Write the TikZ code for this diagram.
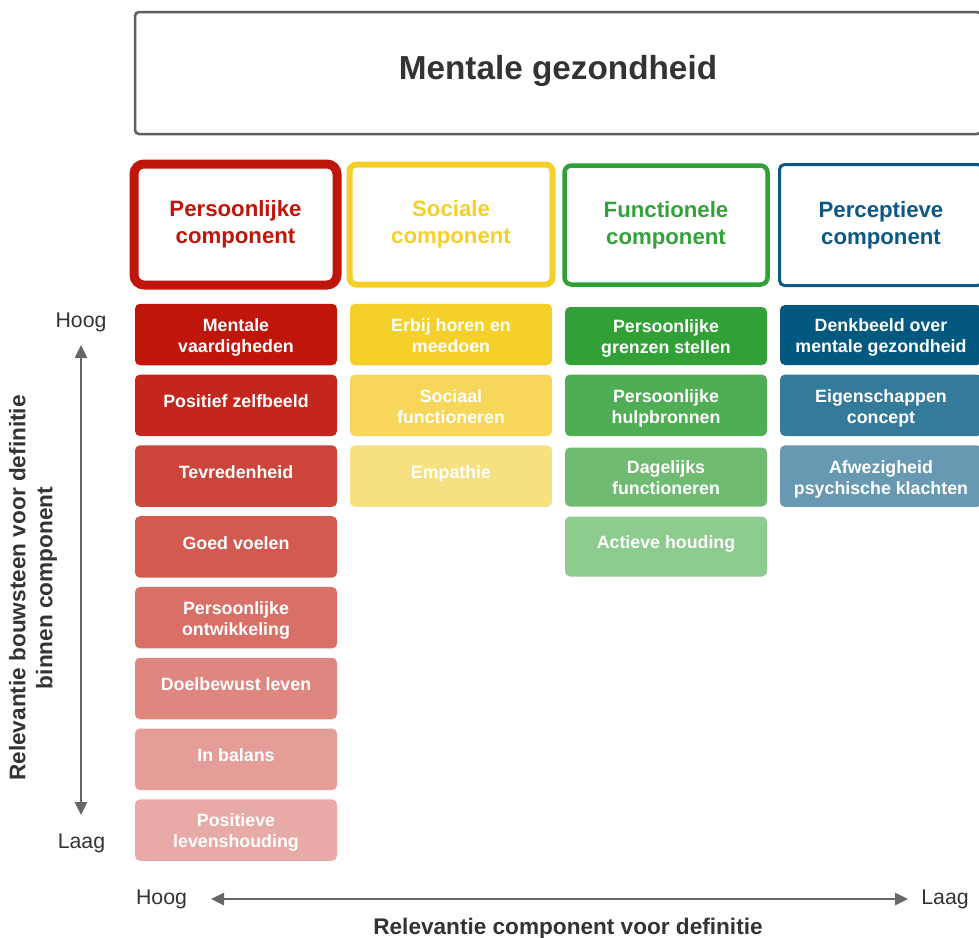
\documentclass[tikz,border=0pt]{standalone}
\usepackage{fontspec}
\setmainfont{Liberation Sans}
\usetikzlibrary{arrows.meta}
\definecolor{rA}{HTML}{C0150A}
\definecolor{rB}{HTML}{C4251C}
\definecolor{rC}{HTML}{CC443A}
\definecolor{rD}{HTML}{D35A51}
\definecolor{rE}{HTML}{D87068}
\definecolor{rF}{HTML}{DF867E}
\definecolor{rG}{HTML}{E49E97}
\definecolor{rH}{HTML}{E7AAA6}
\definecolor{yA}{HTML}{F5CF2A}
\definecolor{yB}{HTML}{F6D75A}
\definecolor{yC}{HTML}{F7E081}
\definecolor{gA}{HTML}{30A037}
\definecolor{gB}{HTML}{4FAD54}
\definecolor{gC}{HTML}{6EBB71}
\definecolor{gD}{HTML}{8ECB8E}
\definecolor{bA}{HTML}{02587F}
\definecolor{bB}{HTML}{347A9B}
\definecolor{bC}{HTML}{6799B3}
\definecolor{hG}{HTML}{33A23A}
\definecolor{hB}{HTML}{0B5885}
\definecolor{axisgray}{HTML}{666666}
\definecolor{framegray}{HTML}{5F5F5F}
\definecolor{txtdark}{HTML}{333333}
\newcommand{\twolines}[2]{\rule{0pt}{18.5pt}#1\\#2\rule[-3.7pt]{0pt}{3.7pt}}
\tikzset{
  blk/.style={rectangle, rounded corners=5pt, minimum width=202pt, minimum height=61.5pt,
    inner sep=0pt, align=center, text=white, draw=none,
    font=\bfseries\fontsize{17.8}{21}\selectfont},
  oneline/.style={text height=12.8pt, text depth=8.4pt},
  hdr/.style={rectangle, rounded corners=7pt, minimum width=203pt, minimum height=120pt,
    inner sep=0pt, align=center, fill=white,
    font=\bfseries\fontsize{22.2}{27}\selectfont},
  axarrow/.style={draw=axisgray, line width=2.5pt,
    {Triangle[width=12pt,length=13pt]}-{Triangle[width=12pt,length=13pt]}},
  axlabel/.style={text=txtdark, font=\fontsize{21.3}{25}\selectfont, inner sep=0pt},
  bigtitle/.style={text=txtdark, font=\bfseries\fontsize{22.6}{27}\selectfont, align=center}
}
\begin{document}
\begin{tikzpicture}[x=1pt,y=-1pt]
\useasboundingbox (0,0) rectangle (979,937);
\clip (0,0) rectangle (979,937);
% title
\node[rectangle, rounded corners=4pt, draw=framegray, line width=2.5pt, fill=white,
  minimum width=846pt, minimum height=122pt, inner sep=0pt] (title) at (558,73) {};
\node[text=txtdark, font=\bfseries\fontsize{33.3}{36}\selectfont, inner sep=0pt] (titletext) at ([yshift=2pt]title.center) {Mentale gezondheid};
% headers
\node[hdr, draw=rA, line width=9pt, text=rA, minimum height=121pt, rounded corners=10pt] (h1) at (235.5,224.5) {Persoonlijke\\component};
\node[hdr, draw=yA, line width=6pt, text=yA] (h2) at (451,224.5) {Sociale\\component};
\node[hdr, draw=gA, line width=4.5pt, text=hG, minimum height=119pt] (h3) at (666,225) {Functionele\\component};
\node[hdr, draw=hB, line width=3pt, text=hB, minimum height=121pt, rounded corners=5pt] (h4) at (881,225) {Perceptieve\\component};
% red column
\node[blk, fill=rA] (r1) at (236,334.5) {\twolines{Mentale}{vaardigheden}};
\node[blk, oneline, fill=rB] (r2) at (236,405.3) {Positief zelfbeeld};
\node[blk, oneline, fill=rC] (r3) at (236,476.1) {Tevredenheid};
\node[blk, oneline, fill=rD] (r4) at (236,546.9) {Goed voelen};
\node[blk, fill=rE] (r5) at (236,617.7) {\twolines{Persoonlijke}{ontwikkeling}};
\node[blk, oneline, fill=rF] (r6) at (236,688.5) {Doelbewust leven};
\node[blk, oneline, fill=rG] (r7) at (236,759.3) {In balans};
\node[blk, fill=rH] (r8) at (236,830.1) {\twolines{Positieve}{levenshouding}};
% yellow column
\node[blk, fill=yA] (y1) at (451,334.5) {\twolines{Erbij horen en}{meedoen}};
\node[blk, fill=yB] (y2) at (451,405.3) {\twolines{Sociaal}{functioneren}};
\node[blk, oneline, fill=yC] (y3) at (451,476.1) {Empathie};
% green column
\node[blk, fill=gA, minimum height=58pt] (g1) at (666,336) {\twolines{Persoonlijke}{grenzen stellen}};
\node[blk, fill=gB] (g2) at (666,405.3) {\twolines{Persoonlijke}{hulpbronnen}};
\node[blk, fill=gC, minimum height=59pt] (g3) at (666,477) {\twolines{Dagelijks}{functioneren}};
\node[blk, oneline, fill=gD, minimum height=60pt] (g4) at (666,546.5) {Actieve houding};
% blue column
\node[blk, fill=bA, minimum height=60pt] (b1) at (881,335) {\twolines{Denkbeeld over}{mentale gezondheid}};
\node[blk, fill=bB] (b2) at (881,405.3) {\twolines{Eigenschappen}{concept}};
\node[blk, fill=bC] (b3) at (881,476.1) {\twolines{Afwezigheid}{psychische klachten}};
% vertical axis
\node[axlabel, anchor=base] (hoogL) at (81,327) {Hoog};
\node[axlabel, anchor=base] (laagL) at (81.5,848) {Laag};
\coordinate (vtop) at (81,345);
\coordinate (vbot) at (81,815);
\draw[axarrow] (vtop) -- (vbot);
\node[bigtitle, rotate=90] (vtitle) at (33,588) {Relevantie bouwsteen voor definitie\\binnen component};
% horizontal axis
\node[axlabel, anchor=base] (hoogB) at (161.5,904) {Hoog};
\node[axlabel, anchor=base] (laagB) at (945,904) {Laag};
\coordinate (hleft) at (211,899);
\coordinate (hright) at (908,899);
\draw[axarrow] (hleft) -- (hright);
\node[bigtitle, anchor=base] (htitle) at (568,934) {Relevantie component voor definitie};
\end{tikzpicture}
\end{document}
